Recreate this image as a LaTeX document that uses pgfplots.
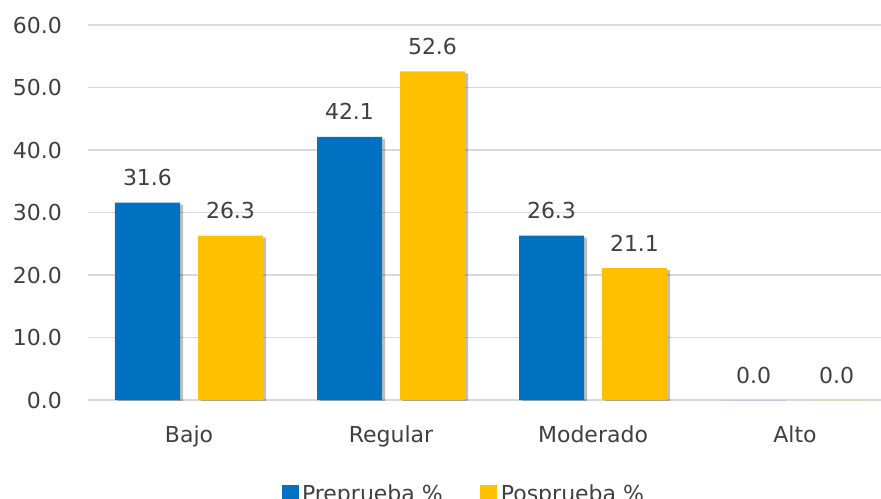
\documentclass[border=0pt]{standalone}
\usepackage{pgfplots}
\pgfplotsset{compat=1.18}
\usepackage{fontspec}
\setmainfont{DejaVu Sans}
\usetikzlibrary{shadows}
\definecolor{cblue}{HTML}{0070C0}
\definecolor{cgold}{HTML}{FFC000}
\definecolor{ctext}{HTML}{404040}
\definecolor{cgrid}{HTML}{D9D9D9}
\newcommand{\cf}{\fontsize{22bp}{26bp}\selectfont}
\pgfplotsset{sqlegend/.style={legend image code/.code={\fill[##1] (0bp,-8bp) rectangle (17bp,9bp);}}}
\begin{document}
\begin{tikzpicture}
\path[use as bounding box] (-88bp,-99bp) rectangle (793bp,400bp);
\begin{axis}[
  at={(0,0)}, anchor=south west,
  scale only axis, width=808bp, height=375bp,
  xmin=-0.5, xmax=3.5, ymin=0, ymax=60,
  ybar, bar width=65bp,
  xtick={0,1,2,3}, xticklabels={Bajo,Regular,Moderado,Alto},
  ytick={0,10,20,30,40,50,60},
  ymajorgrids, grid style={cgrid, line width=1.3bp},
  axis line style={draw=none}, tick style={draw=none}, major tick length=0pt,
  /pgf/number format/fixed, /pgf/number format/fixed zerofill,
  /pgf/number format/precision=1, /pgf/number format/assume math mode=true,
  yticklabel style={font=\cf, text=ctext, anchor=east, inner sep=0pt, xshift=-26bp},
  xticklabel style={font=\cf, text=ctext, anchor=base, inner sep=0pt, yshift=-42bp},
  nodes near coords,
  nodes near coords style={font=\cf, text=ctext, anchor=base, inner sep=0pt, yshift=17bp},
  legend style={at={(0.466,-0.251)}, anchor=center, draw=none, fill=none,
    legend columns=2, font=\cf, text=ctext, inner sep=0pt,
    nodes={inner sep=3.5bp},
    /tikz/every even column/.append style={column sep=34bp}},
]
\addplot[fill=cblue, draw=none, forget plot, bar shift=-41.5bp,
  drop shadow={shadow xshift=3bp, shadow yshift=-2bp, fill=black, opacity=0.25}]
  coordinates {(0,31.6) (1,42.1) (2,26.3) (3,0)};
\addplot[fill=cgold, draw=none, forget plot, bar shift=41.5bp,
  drop shadow={shadow xshift=3bp, shadow yshift=-2bp, fill=black, opacity=0.25}]
  coordinates {(0,26.3) (1,52.6) (2,21.1) (3,0)};
\addlegendimage{fill=cblue, draw=none, sqlegend}
\addlegendentry{Preprueba \%}
\addlegendimage{fill=cgold, draw=none, sqlegend}
\addlegendentry{Posprueba \%}
\end{axis}
\end{tikzpicture}
\end{document}
